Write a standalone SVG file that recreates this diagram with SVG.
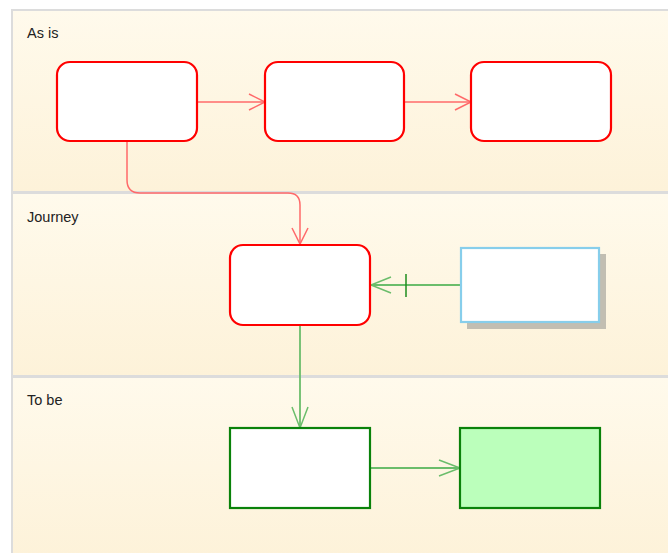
<svg xmlns="http://www.w3.org/2000/svg" width="668" height="553" viewBox="0 0 668 553">
<style>
.lane{stroke:#dcdcdc;stroke-width:2}
.lbl{font-family:"Liberation Sans",Arial,sans-serif;font-size:14.5px;fill:#222}
.rr{fill:#fff;stroke:#ff0000;stroke-width:2.2}
.rc{fill:none;stroke:#ff6a6a;stroke-width:1.5}
.gc{fill:none;stroke:#6bbd6b;stroke-width:1.8}
.ah{fill:none;stroke-width:1.5}
</style>
<defs>
<linearGradient id="lg" x1="0" y1="0" x2="0" y2="1">
<stop offset="0" stop-color="#fffaec"/>
<stop offset="1" stop-color="#fdf2d9"/>
</linearGradient>
</defs>
<rect width="668" height="553" fill="#fff"/>
<g id="lanes">
<rect class="lane" x="12" y="10" width="660" height="182" fill="url(#lg)"/>
<rect class="lane" x="12" y="193" width="660" height="183" fill="url(#lg)"/>
<rect class="lane" x="12" y="377" width="660" height="180" fill="url(#lg)"/>
<text class="lbl" x="27" y="38">As is</text>
<text class="lbl" x="27" y="222">Journey</text>
<text class="lbl" x="27" y="405">To be</text>
</g>
<g id="connectors">
<path class="rc" d="M197 102H265"/>
<path class="ah" stroke="#ff6a6a" d="M249 94L265 102L249 110"/>
<path class="rc" d="M404 102H471"/>
<path class="ah" stroke="#ff6a6a" d="M455 94L471 102L455 110"/>
<path class="rc" d="M127 141V180Q127 193 140 193H288Q300 193 300 205V244"/>
<path class="ah" stroke="#ff6a6a" d="M292 228L300 244L308 228"/>
<path class="gc" d="M461 285H371"/>
<path class="ah" stroke="#6bbd6b" d="M391 277L371 285L391 293"/>
<path stroke="#1e8c1e" stroke-width="1.5" d="M406 274V297"/>
<path class="gc" d="M300 325V428"/>
<path class="ah" stroke="#6bbd6b" d="M292 407L300 428L308 407"/>
<path class="gc" d="M370 468H460"/>
<path class="ah" stroke="#6bbd6b" d="M439 460L460 468L439 476"/>
</g>
<g id="a1"><rect class="rr" x="57" y="62" width="140" height="79" rx="13"/></g>
<g id="a2"><rect class="rr" x="265" y="62" width="139" height="79" rx="13"/></g>
<g id="a3"><rect class="rr" x="471" y="62" width="140" height="79" rx="13"/></g>
<g id="j1"><rect class="rr" x="230" y="245" width="140" height="80" rx="13"/></g>
<g id="j2">
<rect x="467" y="254" width="139" height="75" fill="#c2beb2"/>
<rect x="461" y="248" width="138" height="74" fill="#fff" stroke="#87ceeb" stroke-width="2.2"/>
</g>
<g id="t1"><rect x="230" y="428" width="140" height="80" fill="#fff" stroke="#0a820a" stroke-width="2.2"/></g>
<g id="t2"><rect x="460" y="428" width="140" height="80" fill="#bbffbb" stroke="#0a820a" stroke-width="2.2"/></g>
</svg>
